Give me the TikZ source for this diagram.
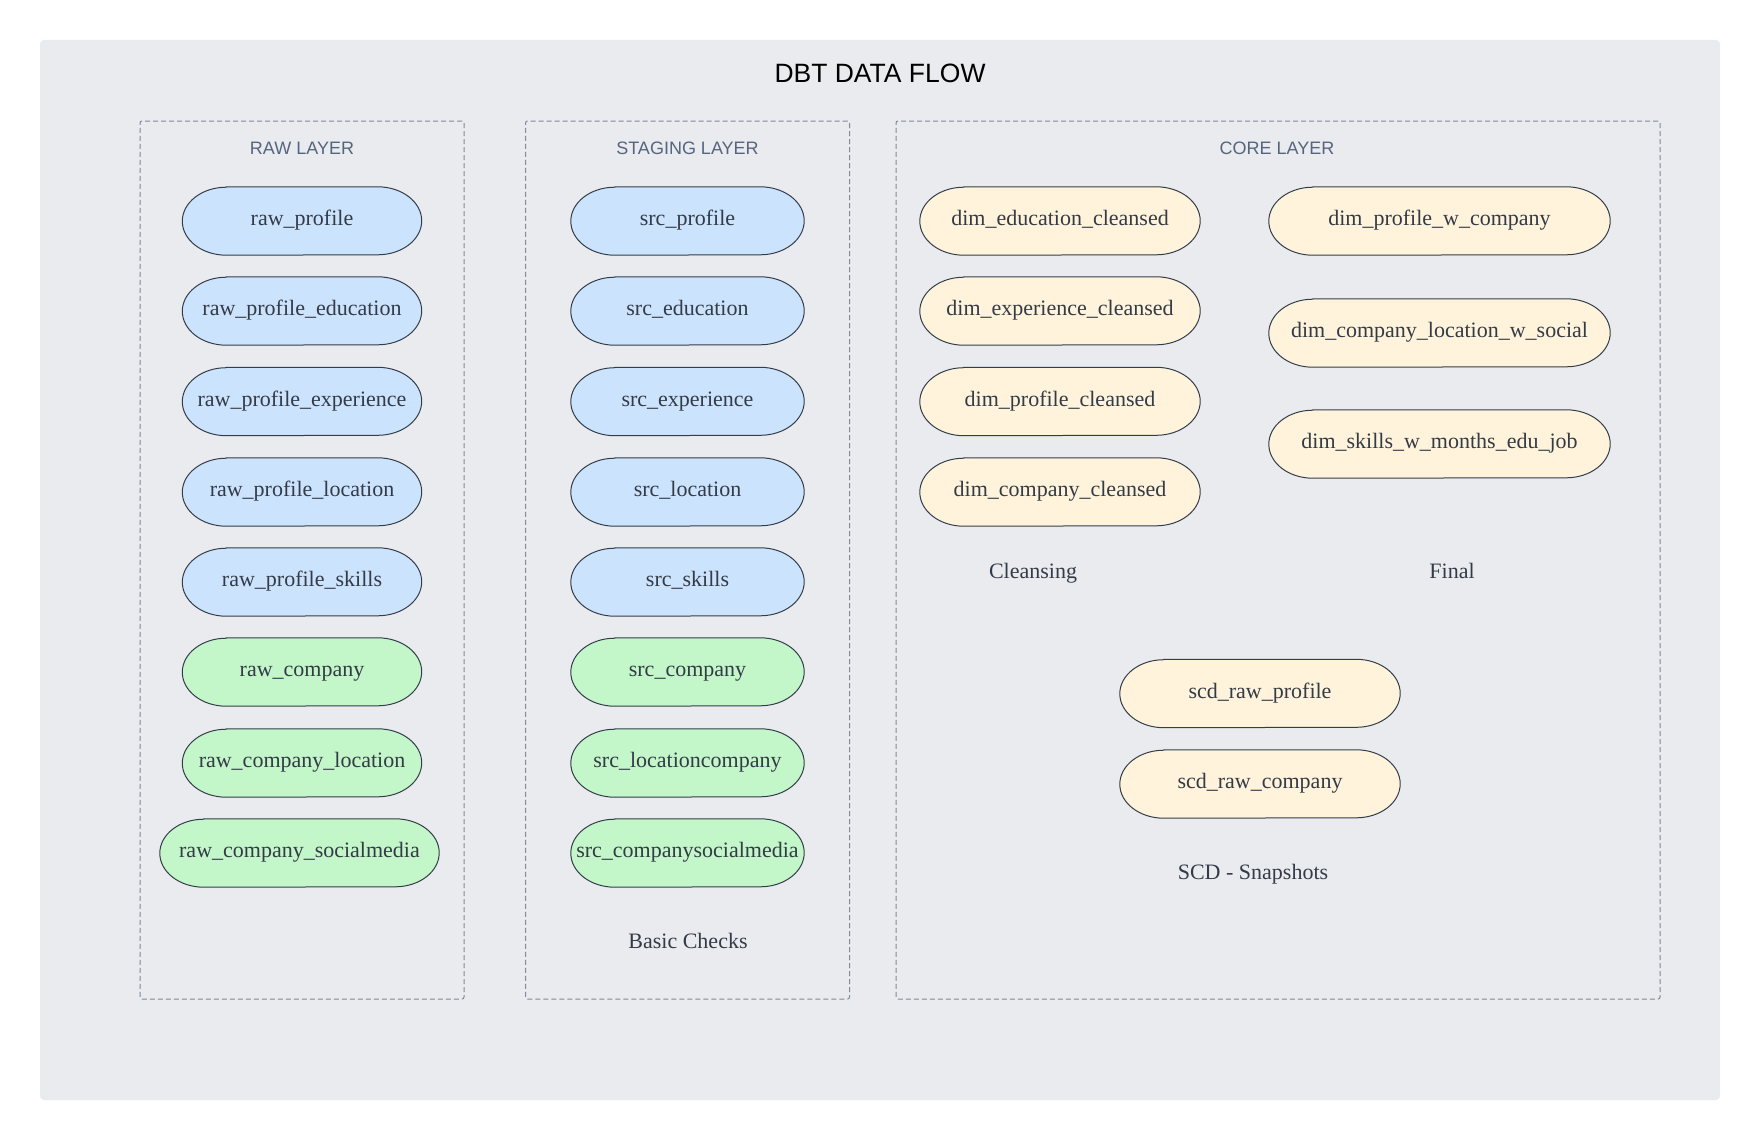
\documentclass[tikz,border=0pt]{standalone}
\usepackage{fontspec}
\setmainfont{Liberation Serif}
\newfontfamily\labelfont{Liberation Sans}
\pgfdeclarelayer{bgzero}
\pgfdeclarelayer{bgone}
\pgfsetlayers{bgzero,bgone,main}
\definecolor{pagebg}{HTML}{E9EBEF}
\definecolor{boxline}{HTML}{7F8A9A}
\definecolor{layertxt}{HTML}{56657F}
\definecolor{nodetxt}{HTML}{333B47}
\definecolor{pillline}{HTML}{333D4A}
\definecolor{bluefill}{HTML}{CCE3FD}
\definecolor{greenfill}{HTML}{C3F6C8}
\definecolor{yellowfill}{HTML}{FFF3DB}
\tikzset{
  pilltext/.style={rectangle, inner sep=0pt, minimum height=68pt, text height=15pt, text depth=6pt, text=nodetxt, font=\fontsize{22}{26}\selectfont},
  pilledge/.style={draw=pillline, line width=1pt},
  layerbox/.style={draw=boxline, dash pattern=on 5pt off 3pt, line width=1pt, rounded corners=2pt},
  layerlabel/.style={text=layertxt, font=\labelfont\fontsize{18}{21}\selectfont, inner sep=0pt},
  grouplabel/.style={text=nodetxt, font=\fontsize{22}{26}\selectfont, inner sep=0pt, text height=15pt, text depth=6pt},
}
\newcommand{\pill}[6]{%
  \node[pilltext, minimum width=#4pt] (#1) at (#2,#3) {#6};
  \begin{pgfonlayer}{bgone}
  \draw[pilledge, fill=#5] ([xshift=44pt]#1.north west) -- ([xshift=-44pt]#1.north east)
    arc[start angle=90, end angle=-90, x radius=44pt, y radius=34pt]
    -- ([xshift=44pt]#1.south west)
    arc[start angle=270, end angle=90, x radius=44pt, y radius=34pt] -- cycle;
  \end{pgfonlayer}}
\begin{document}
\begin{tikzpicture}[x=1pt, y=-1pt]
\useasboundingbox (0,0) rectangle (1760,1140);
\begin{pgfonlayer}{bgzero}
\fill[pagebg, rounded corners=4pt] (40,40) rectangle (1720,1100);
\end{pgfonlayer}
\node[inner sep=0pt, font=\labelfont\fontsize{26.5}{30}\selectfont, text=black] (title) at (880,73) {DBT DATA FLOW};
% layer boxes
\node[layerbox, minimum width=324pt, minimum height=878pt, inner sep=0pt] (rawbox) at (302,560) {};
\node[layerbox, minimum width=324pt, minimum height=878pt, inner sep=0pt] (stgbox) at (687.5,560) {};
\node[layerbox, minimum width=764pt, minimum height=878pt, inner sep=0pt] (corebox) at (1278,560) {};
\node[layerlabel] (rawlbl) at (302,148) {RAW LAYER};
\node[layerlabel] (stglbl) at (687.5,148) {STAGING LAYER};
\node[layerlabel] (corelbl) at (1277,148) {CORE LAYER};
% raw
\pill{r1}{302}{221}{239}{bluefill}{raw\_profile}
\pill{r2}{302}{311}{239}{bluefill}{raw\_profile\_education}
\pill{r3}{302}{401.5}{239}{bluefill}{raw\_profile\_experience}
\pill{r4}{302}{492}{239}{bluefill}{raw\_profile\_location}
\pill{r5}{302}{582}{239}{bluefill}{raw\_profile\_skills}
\pill{r6}{302}{672}{239}{greenfill}{raw\_company}
\pill{r7}{302}{763}{239}{greenfill}{raw\_company\_location}
\pill{r8}{299.5}{853}{279}{greenfill}{raw\_company\_socialmedia}
% staging
\pill{s1}{687.5}{221}{233}{bluefill}{src\_profile}
\pill{s2}{687.5}{311}{233}{bluefill}{src\_education}
\pill{s3}{687.5}{401.5}{233}{bluefill}{src\_experience}
\pill{s4}{687.5}{492}{233}{bluefill}{src\_location}
\pill{s5}{687.5}{582}{233}{bluefill}{src\_skills}
\pill{s6}{687.5}{672}{233}{greenfill}{src\_company}
\pill{s7}{687.5}{763}{233}{greenfill}{src\_locationcompany}
\pill{s8}{687.5}{853}{233}{greenfill}{src\_companysocialmedia}
\node[grouplabel] (basic) at (688,944) {Basic Checks};
% core
\pill{c1}{1060}{221}{280}{yellowfill}{dim\_education\_cleansed}
\pill{c2}{1060}{311}{280}{yellowfill}{dim\_experience\_cleansed}
\pill{c3}{1060}{401.5}{280}{yellowfill}{dim\_profile\_cleansed}
\pill{c4}{1060}{492}{280}{yellowfill}{dim\_company\_cleansed}
\pill{f1}{1439.5}{221}{341}{yellowfill}{dim\_profile\_w\_company}
\pill{f2}{1439.5}{333}{341}{yellowfill}{dim\_company\_location\_w\_social}
\pill{f3}{1439.5}{444}{341}{yellowfill}{dim\_skills\_w\_months\_edu\_job}
\node[grouplabel] (cleansing) at (1033,574) {Cleansing};
\node[grouplabel] (final) at (1452,574) {Final};
\pill{d1}{1260}{693.5}{280}{yellowfill}{scd\_raw\_profile}
\pill{d2}{1260}{784}{280}{yellowfill}{scd\_raw\_company}
\node[grouplabel] (scd) at (1253,875) {SCD - Snapshots};
\end{tikzpicture}
\end{document}
